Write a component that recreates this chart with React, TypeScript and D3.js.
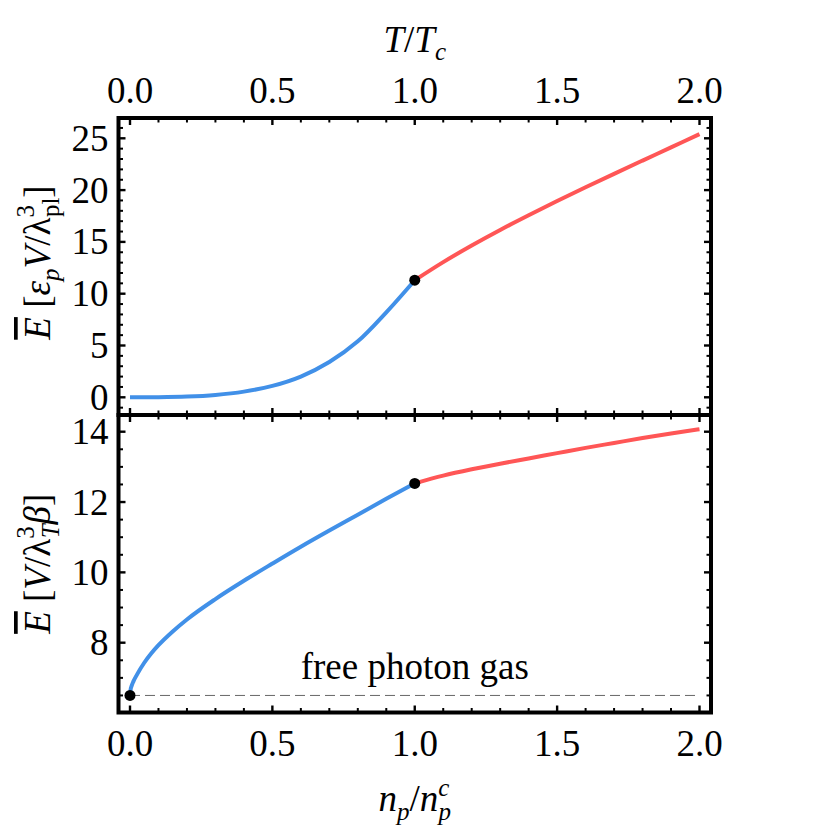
import React from "react";
import * as d3 from "d3";

// ---- data ----
const topTBelow = [0, 0.1, 0.2, 0.3, 0.4, 0.5, 0.6, 0.7, 0.8, 0.9, 1.0];
const topEBelow = [0, 0.01, 0.07, 0.23, 0.55, 1.1, 2.0, 3.4, 5.4, 8.2, 11.3];
const topTAbove = [1.0, 1.1, 1.2, 1.3, 1.4, 1.5, 1.6, 1.7, 1.8, 1.9, 2.0];
const topEAbove = [11.3, 13.05, 14.65, 16.15, 17.57, 18.94, 20.27, 21.57, 22.85, 24.12, 25.4];

const botNBelow = [0, 0.002, 0.006, 0.012, 0.025, 0.05, 0.075, 0.1, 0.15, 0.2, 0.3, 0.4, 0.5, 0.6, 0.7, 0.8, 0.9, 1.0];
const botEBelow = [6.5, 6.66, 6.78, 6.9, 7.1, 7.43, 7.7, 7.93, 8.32, 8.66, 9.24, 9.76, 10.25, 10.73, 11.19, 11.64, 12.09, 12.53];
const botNAbove = [1.0, 1.1, 1.2, 1.3, 1.4, 1.5, 1.6, 1.7, 1.8, 1.9, 2.0];
const botEAbove = [12.53, 12.75, 12.93, 13.09, 13.24, 13.39, 13.54, 13.68, 13.82, 13.95, 14.07];

const criticalTop = { x: 1.0, y: 11.3 };
const criticalBot = { x: 1.0, y: 12.53 };
const freeGasEnergy = 6.5;

const xTickLabels = ["0.0", "0.5", "1.0", "1.5", "2.0"];
const topYTicks = [0, 5, 10, 15, 20, 25];
const botYTicks = [8, 10, 12, 14];

// ---- layout ----
const W = 830;
const H = 830;
const frameL = 118.5;
const frameR = 711;
const frameT = 118;
const frameM = 415;
const frameB = 712.5;

const blue = "#4190e8";
const red = "#ff5656";
const serif = "'Liberation Serif', 'Times New Roman', serif";
const fs = 37;
const sub = 25;

const x = d3.scaleLinear().domain([0, 2]).range([130, 699.5]);
const yTop = d3.scaleLinear().domain([0, 25]).range([397.3, 138.3]);
const yBot = d3.scaleLinear().domain([8, 14]).range([642.7, 431.7]);

function zip(a: number[], b: number[]): [number, number][] {
  return a.map((v, i) => [v, b[i]]);
}

function minorTicks(scale: d3.ScaleLinear<number, number>, step: number, lo: number, hi: number, major: number) {
  const out: number[] = [];
  const a = scale.invert(lo);
  const b = scale.invert(hi);
  const min = Math.min(a, b);
  const max = Math.max(a, b);
  for (let v = Math.ceil(min / step) * step; v <= max + 1e-9; v += step) {
    const r = Math.round(v / step) * step;
    if (Math.abs(r / major - Math.round(r / major)) > 1e-6) out.push(r);
  }
  return out;
}

const majLen = 7;
const minLen = 4.5;

function Panel({ y, top, bottom, yMajors, yMinor, yMajor }: any) {
  const xMaj = xTickLabels.map(Number);
  const xMin = minorTicks(x, 0.1, frameL, frameR, 0.5);
  const yMin = minorTicks(y, yMinor, bottom, top, yMajor);
  const sw = (m: boolean) => (m ? 2.4 : 2);
  return (
    <g stroke="#000" fill="none">
      {xMaj.map((v) => (
        <g key={"xm" + v}>
          <line x1={x(v)} x2={x(v)} y1={top} y2={top + majLen} strokeWidth={sw(true)} />
          <line x1={x(v)} x2={x(v)} y1={bottom} y2={bottom - majLen} strokeWidth={sw(true)} />
        </g>
      ))}
      {xMin.map((v) => (
        <g key={"xn" + v}>
          <line x1={x(v)} x2={x(v)} y1={top} y2={top + minLen} strokeWidth={sw(false)} />
          <line x1={x(v)} x2={x(v)} y1={bottom} y2={bottom - minLen} strokeWidth={sw(false)} />
        </g>
      ))}
      {yMajors.map((v: number) => (
        <g key={"ym" + v}>
          <line x1={frameL} x2={frameL + majLen} y1={y(v)} y2={y(v)} strokeWidth={sw(true)} />
          <line x1={frameR} x2={frameR - majLen} y1={y(v)} y2={y(v)} strokeWidth={sw(true)} />
        </g>
      ))}
      {yMin.map((v) => (
        <g key={"yn" + v}>
          <line x1={frameL} x2={frameL + minLen} y1={y(v)} y2={y(v)} strokeWidth={sw(false)} />
          <line x1={frameR} x2={frameR - minLen} y1={y(v)} y2={y(v)} strokeWidth={sw(false)} />
        </g>
      ))}
      <rect x={frameL} y={top} width={frameR - frameL} height={bottom - top} strokeWidth={4} />
    </g>
  );
}

export default function App() {
  const lineTop = d3.line<[number, number]>().x((d) => x(d[0])).y((d) => yTop(d[1])).curve(d3.curveCatmullRom.alpha(0.5));
  const lineBot = d3.line<[number, number]>().x((d) => x(d[0])).y((d) => yBot(d[1])).curve(d3.curveMonotoneX);

  const ital = { fontStyle: "italic" as const };

  return (
    <svg width={W} height={H} style={{ position: "absolute", left: 0, top: 0, background: "#fff" }} fontFamily={serif}>
      <rect width={W} height={H} fill="#fff" />

      {/* curves */}
      <g fill="none" strokeWidth={4} strokeLinecap="butt">
        <path d={lineTop(zip(topTBelow, topEBelow)) || ""} stroke={blue} />
        <path d={lineTop(zip(topTAbove, topEAbove)) || ""} stroke={red} />
        <path d={lineBot(zip(botNBelow, botEBelow)) || ""} stroke={blue} />
        <path d={lineBot(zip(botNAbove, botEAbove)) || ""} stroke={red} />
      </g>

      {/* free photon gas reference */}
      <line x1={x(0)} x2={x(2)} y1={yBot(freeGasEnergy)} y2={yBot(freeGasEnergy)} stroke="#666" strokeWidth={1} strokeDasharray="10,5" />
      <text x={x(1)} y={yBot(freeGasEnergy) - 16} fontSize={fs} textAnchor="middle">free photon gas</text>

      <circle cx={x(criticalTop.x)} cy={yTop(criticalTop.y)} r={5.5} fill="#000" />
      <circle cx={x(criticalBot.x)} cy={yBot(criticalBot.y)} r={5.5} fill="#000" />
      <circle cx={x(0)} cy={yBot(freeGasEnergy)} r={5.5} fill="#000" />

      <Panel y={yTop} top={frameT} bottom={frameM} yMajors={topYTicks} yMinor={1} yMajor={5} />
      <Panel y={yBot} top={frameM} bottom={frameB} yMajors={botYTicks} yMinor={0.5} yMajor={2} />

      {/* tick labels */}
      <g fontSize={fs} fill="#000">
        {xTickLabels.map((t) => (
          <text key={"tt" + t} x={x(Number(t))} y={frameT - 15} textAnchor="middle">{t}</text>
        ))}
        {xTickLabels.map((t) => (
          <text key={"bt" + t} x={x(Number(t))} y={frameB + 43} textAnchor="middle">{t}</text>
        ))}
        {topYTicks.map((v) => (
          <text key={"ty" + v} x={frameL - 10} y={yTop(v)} dy="0.34em" textAnchor="end">{v}</text>
        ))}
        {botYTicks.map((v) => (
          <text key={"by" + v} x={frameL - 10} y={yBot(v)} dy="0.34em" textAnchor="end">{v}</text>
        ))}
      </g>

      {/* axis titles */}
      <text x={(frameL + frameR) / 2} y={52} fontSize={fs} textAnchor="middle">
        <tspan {...ital}>T</tspan>/<tspan {...ital}>T</tspan>
        <tspan {...ital} fontSize={sub} dy={8}>c</tspan>
      </text>
      <text x={(frameL + frameR) / 2} y={811} fontSize={fs} textAnchor="middle">
        <tspan {...ital}>n</tspan>
        <tspan {...ital} fontSize={sub} dy={9}>p</tspan>
        <tspan dy={-9}>/</tspan>
        <tspan {...ital}>n</tspan>
        <tspan {...ital} fontSize={sub} dy={-15}>c</tspan>
        <tspan {...ital} fontSize={sub} dx={-11} dy={24}>p</tspan>
      </text>

      <text transform={`translate(50,${(frameT + frameM) / 2 - 4}) rotate(-90)`} fontSize={fs} textAnchor="middle">
        <tspan {...ital} style={{ textDecoration: "overline" }}>E</tspan>
        <tspan> [</tspan>
        <tspan {...ital}>ε</tspan>
        <tspan {...ital} fontSize={sub} dy={9}>p</tspan>
        <tspan {...ital} dy={-9}>V</tspan>
        <tspan>/λ</tspan>
        <tspan fontSize={sub} dy={-16}>3</tspan>
        <tspan fontSize={sub} dx={-12} dy={25}>pl</tspan>
        <tspan dy={-9}>]</tspan>
      </text>
      <text transform={`translate(50,${(frameM + frameB) / 2}) rotate(-90)`} fontSize={fs} textAnchor="middle">
        <tspan {...ital} style={{ textDecoration: "overline" }}>E</tspan>
        <tspan> [</tspan>
        <tspan {...ital}>V</tspan>
        <tspan>/λ</tspan>
        <tspan fontSize={sub} dy={-16}>3</tspan>
        <tspan {...ital} fontSize={sub} dx={-12} dy={25}>T</tspan>
        <tspan {...ital} dy={-9}>β</tspan>
        <tspan>]</tspan>
      </text>
    </svg>
  );
}
